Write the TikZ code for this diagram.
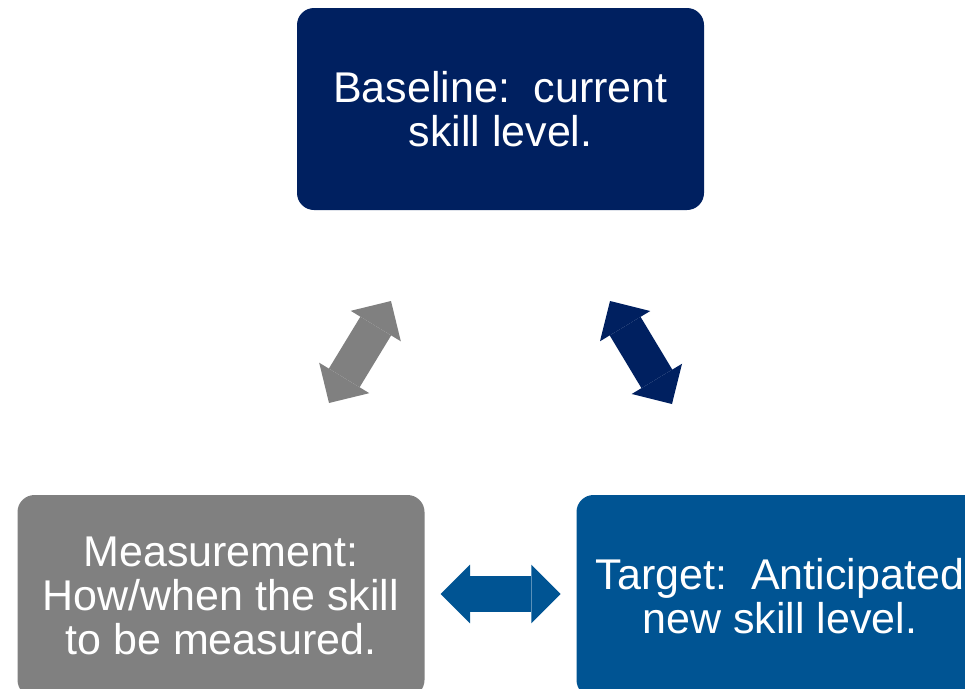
\documentclass[tikz,border=0pt]{standalone}
\usepackage{fontspec}
\setmainfont{Liberation Sans}
\usetikzlibrary{arrows.meta}
\definecolor{navy}{RGB}{0,32,96}
\definecolor{steel}{RGB}{0,84,147}
\definecolor{slate}{RGB}{128,128,128}

\begin{document}
\begin{tikzpicture}[
      x=0.75pt, y=-0.75pt,
      box/.style={
        rounded corners=12.75pt, text=white, align=center,
        inner sep=0pt, minimum width=305.25pt, minimum height=151.5pt,
        font=\fontsize{32.25}{33}\selectfont
      },
      tip/.style={Triangle[length=22pt,width=44pt,line width=0pt]},
      dbl/.style={line width=27pt, {Triangle[length=22pt,width=44pt,line width=0pt]}-{Triangle[length=22pt,width=44pt,line width=0pt]}}
    ]
      \path[use as bounding box, clip] (0,0) rectangle (965,689);

      % the three boxes
      \node[box, fill=navy] (base) at (500.5,109)
        {Baseline:\ \ current\\skill level.};
      \node[box, fill=slate] (measure) at (221,596)
        {Measurement:\\How/when the skill\\to be measured.};
      \node[box, fill=steel] (target) at (780,596)
        {Target:\ \ Anticipated\\new skill level.};

      % arrow ends
      \coordinate (m1) at (329,403);
      \coordinate (m2) at (391,301);
      \coordinate (t1) at (610,301);
      \coordinate (t2) at (672,404);
      \coordinate (h1) at (440.7,594);
      \coordinate (h2) at (560.7,594);

      \draw[dbl, slate] (m1)--(m2);
      \draw[dbl, navy] (t1)--(t2);
      \draw[dbl, steel] (h1)--(h2);
    \end{tikzpicture}
\end{document}
